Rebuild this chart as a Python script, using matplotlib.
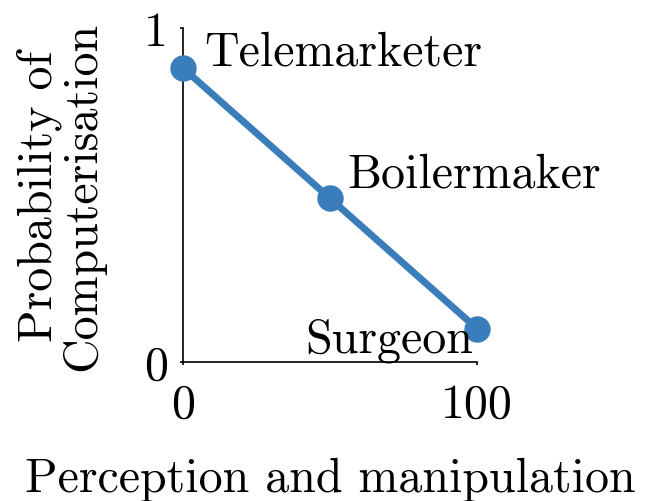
import matplotlib
matplotlib.use("Agg")
import matplotlib.pyplot as plt

x_vals = [0, 50, 100]
y_vals = [0.88, 0.49, 0.10]
labels = ["Telemarketer", "Boilermaker", "Surgeon"]
label_pos = [(7.2, 0.89), (56, 0.525), (41.5, 0.03)]
xticks = [0, 100]
yticks = [0, 1]

plt.rcParams['font.family'] = ['cmr10', 'DejaVu Serif']
plt.rcParams['axes.formatter.use_mathtext'] = True

fs = 34.5
fig = plt.figure(figsize=(6.46, 5.02), dpi=100)
ax = fig.add_axes([183/646, 1-363/502, (477-183)/646, (363-29)/502])
color = '#3a7dbb'
ax.plot(x_vals, y_vals, color=color, lw=5, marker='o', markersize=18, clip_on=False, zorder=3)
for lab, (lx, ly) in zip(labels, label_pos):
    ax.text(lx, ly, lab, fontsize=fs, ha='left', va='baseline', zorder=4)

ax.set_xlim(0, 100)
ax.set_ylim(0, 1)
ax.set_xticks(xticks)
ax.set_yticks(yticks)
ax.set_xticklabels([str(t) for t in xticks])
ax.set_yticklabels([str(t) for t in yticks])
ax.tick_params(labelsize=fs, length=2, width=1.2)
ax.tick_params(axis='y', pad=9)
ax.tick_params(axis='x', pad=13)
for s in ['top', 'right']:
    ax.spines[s].set_visible(False)
for s in ['left', 'bottom']:
    ax.spines[s].set_linewidth(1.2)
ax.set_xlabel("Perception and manipulation", fontsize=fs, labelpad=21)
ax.set_ylabel("Probability of\nComputerisation", fontsize=fs, labelpad=28, linespacing=0.95)
fig.savefig("out.png", dpi=100)
